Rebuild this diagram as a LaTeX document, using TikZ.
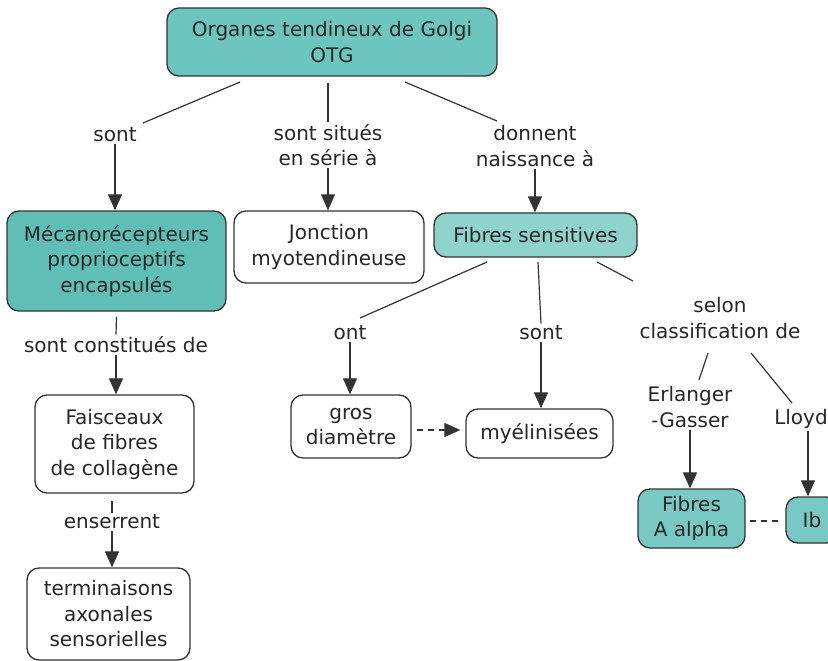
\documentclass[tikz,border=0pt]{standalone}
\usepackage{fontspec}
\setmainfont{DejaVu Sans}
\usetikzlibrary{arrows.meta}
\definecolor{tealA}{HTML}{6CC5BE}
\definecolor{tealB}{HTML}{5FBEB6}
\definecolor{tealC}{HTML}{8FD3CD}
\definecolor{tealD}{HTML}{78C9C3}
\definecolor{ink}{HTML}{262626}
\definecolor{edge}{HTML}{333333}
\begin{document}
\begin{tikzpicture}[x=1pt,y=-1pt,
  every node/.style={font=\fontsize{20}{25.5}\selectfont, text=ink, align=center},
  concept/.style={draw=edge, line width=1.3pt, rounded corners=12pt, inner sep=0pt},
  label/.style={inner sep=2pt},
  link/.style={draw=edge, line width=1.2pt},
  arr/.style={link, -{Triangle[length=16pt,width=14pt]}},
  dlink/.style={link, dash pattern=on 6pt off 5pt}
]
\useasboundingbox (0,0) rectangle (828,661);
\begin{scope}
\clip (0,0) rectangle (828,661);

% concepts
\node[concept, fill=tealA, minimum width=330pt, minimum height=68pt] (otg) at (332,42) {Organes tendineux de Golgi\\OTG};
\node[concept, fill=tealB, minimum width=219pt, minimum height=100pt] (meca) at (116.5,261) {Mécanorécepteurs\\proprioceptifs\\encapsulés};
\node[concept, fill=white, minimum width=190pt, minimum height=72pt] (jonc) at (329,247) {Jonction\\myotendineuse};
\node[concept, fill=tealC, minimum width=203pt, minimum height=44pt] (fs) at (535.5,235) {Fibres sensitives};
\node[concept, fill=white, minimum width=159pt, minimum height=98pt] (fais) at (114.5,444) {Faisceaux\\de fibres\\de collagène};
\node[concept, fill=white, minimum width=163pt, minimum height=92pt] (term) at (108.5,614) {terminaisons\\axonales\\sensorielles};
\node[concept, fill=white, minimum width=120pt, minimum height=63pt] (gros) at (351,426.5) {gros\\diamètre};
\node[concept, fill=white, minimum width=147pt, minimum height=49pt] (myel) at (539.5,433.5) {myélinisées};
\node[concept, fill=tealD, minimum width=107pt, minimum height=59pt] (alpha) at (691.5,518.5) {Fibres\\A alpha};
\node[concept, fill=tealD, minimum width=52pt, minimum height=46pt] (ib) at (812,520) {Ib};

% linking phrases
\node[label] (l1) at (115,135) {sont};
\node[label] (l2) at (328,145) {sont situés\\en série à};
\node[label] (l3) at (535,146) {donnent\\naissance à};
\node[label] (l4) at (116,345) {sont constitués de};
\node[label] (l5) at (112,522) {enserrent};
\node[label] (l6) at (350,333) {ont};
\node[label] (l7) at (541,333) {sont};
\node[label] (l8) at (720,318) {selon\\classification de};
\node[label] (l9) at (690,407) {Erlanger\\-Gasser};
\node[label] (l10) at (801,419) {Lloyd};

% connectors
\draw[link] (240,82) coordinate (a1) -- (143,123);
\draw[arr] (l1.south) -- (meca.north -| l1.south);
\draw[link] (otg.south -| l2.north) ++(0,6) -- (l2.north);
\draw[arr] (l2.south) -- (jonc.north -| l2.south);
\draw[link] (405,82) coordinate (a3) -- (497,121);
\draw[arr] (l3.south) -- (fs.north -| l3.south);
\draw[link] (meca.south) ++(0,5) -- (l4.north);
\draw[arr] (l4.south) -- (fais.north -| l4.south);
\draw[link] (fais.south -| l5.north) ++(0,7) -- (l5.north);
\draw[arr] (l5.south) -- (term.north -| l5.south);
\draw[link] (487,262) coordinate (b1) -- (360,318);
\draw[arr] (l6.south) -- (gros.north -| l6.south);
\draw[link] (538,262) coordinate (b2) -- (l7.north);
\draw[arr] (l7.south) -- (myel.north -| l7.south);
\draw[link] (597,262) coordinate (b3) -- (633,281);
\draw[link] (708,353) coordinate (c1) -- (699,380);
\draw[arr] (l9.south -| 690,0) -- (alpha.north -| 690,0);
\draw[link] (751,353) coordinate (c2) -- (792,403);
\draw[arr] (l10.south -| 808,0) -- (ib.north -| 808,0);
\draw[dlink, -{Triangle[length=16pt,width=14pt]}] (gros.east |- 0,430) ++(5,0) -- ([xshift=-5pt]myel.west |- 0,430);
\draw[dlink] ([xshift=4pt]alpha.east |- 0,521) -- ([xshift=-3pt]ib.west |- 0,521);
\end{scope}
\end{tikzpicture}
\end{document}
